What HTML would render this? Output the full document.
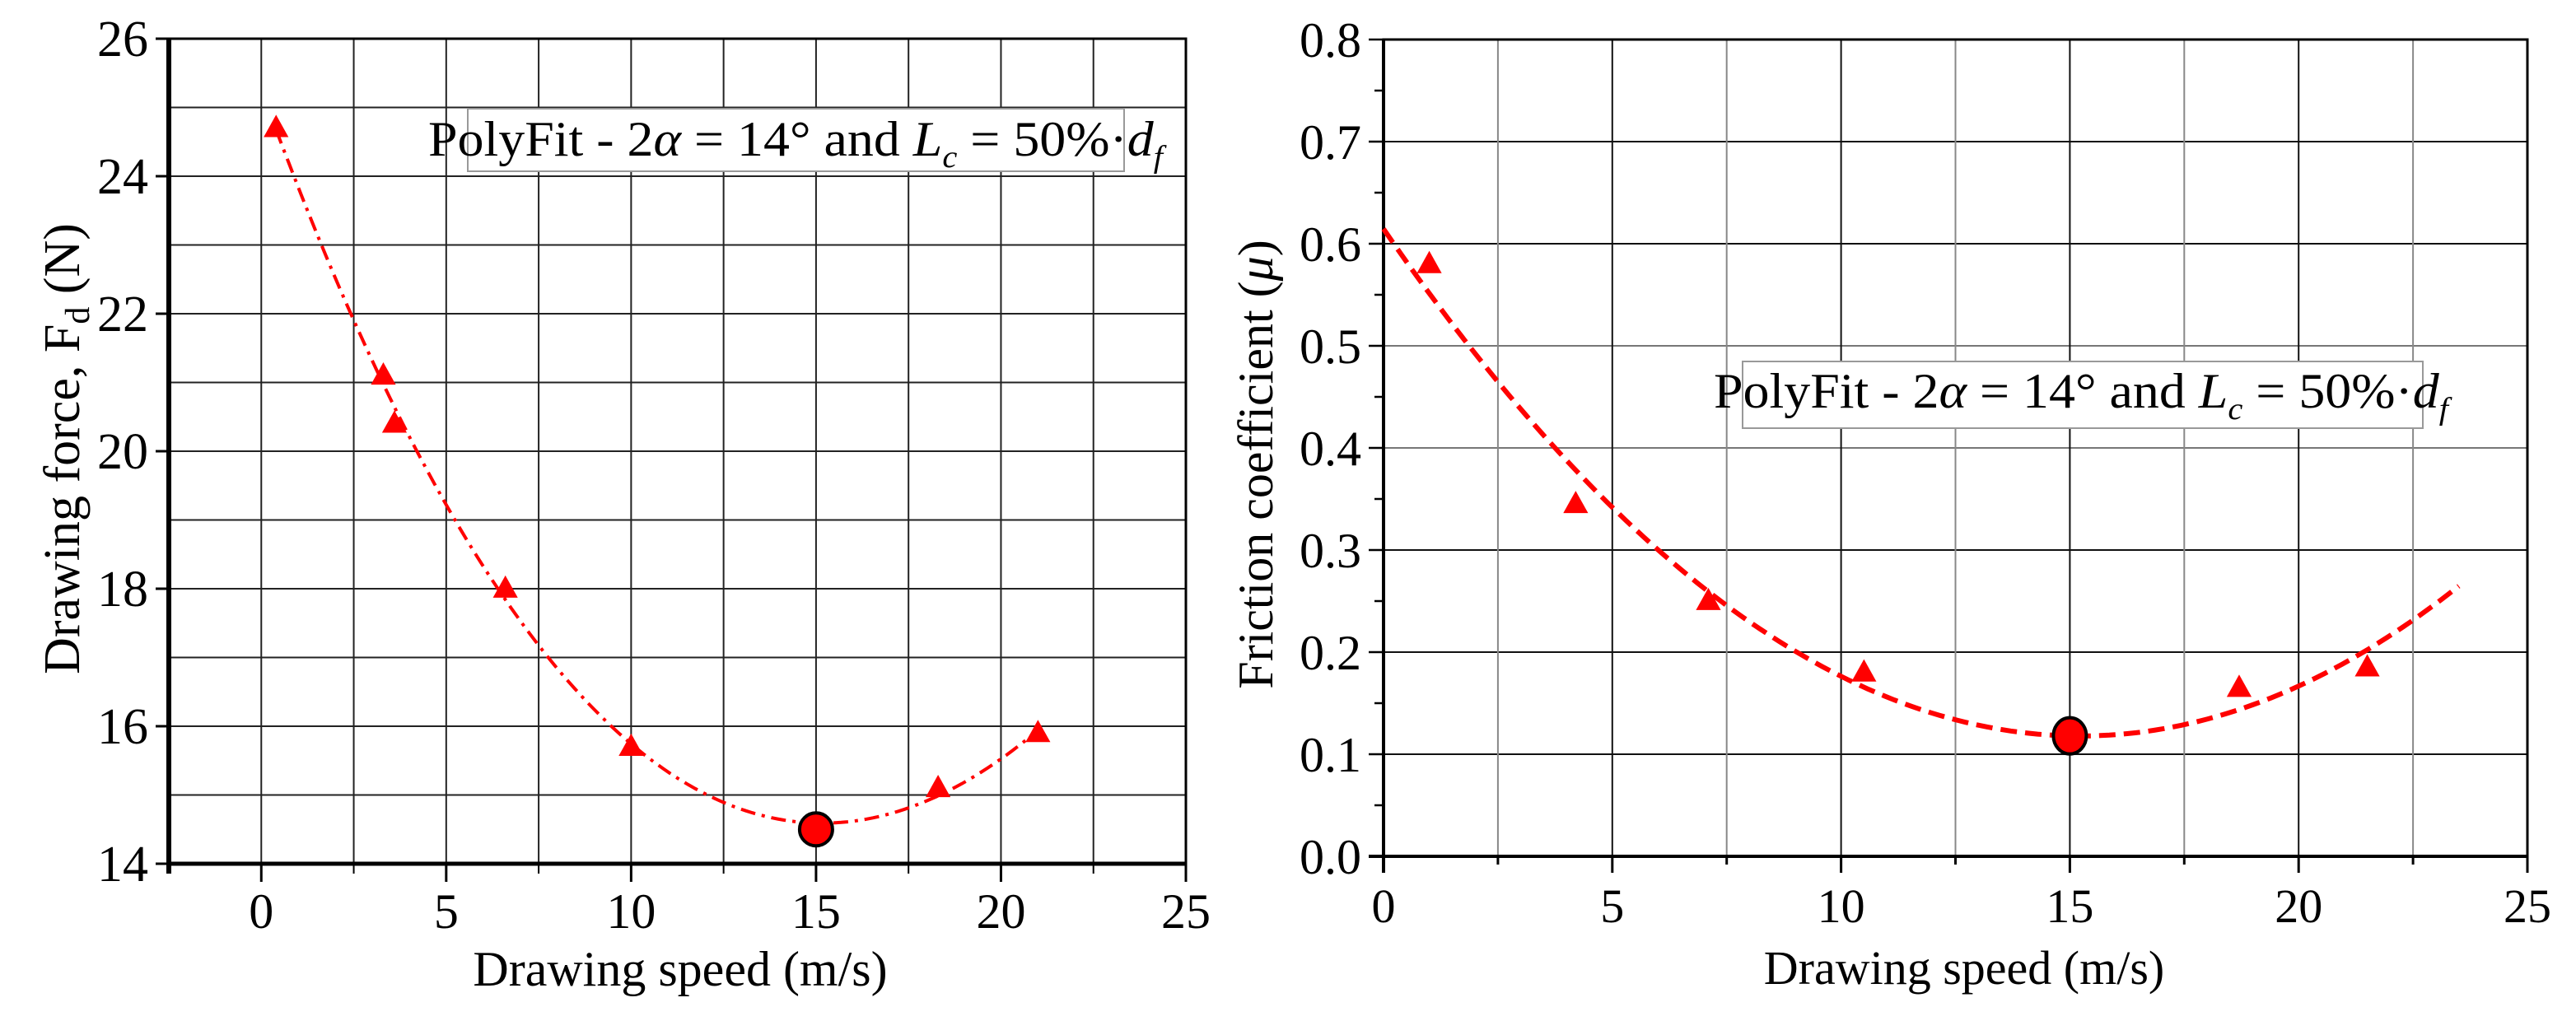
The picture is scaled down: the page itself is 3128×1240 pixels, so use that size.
<!DOCTYPE html>
<html><head><meta charset="utf-8"><style>
html,body{margin:0;padding:0;background:#fff;}
svg{display:block;font-family:"Liberation Serif",serif;}
</style></head><body>
<svg id="fig" width="3128" height="1240" viewBox="0 0 3128 1240" xmlns="http://www.w3.org/2000/svg">
<rect x="0" y="0" width="3128" height="1240" fill="#fff"/>
<g id="left"></g>
<g id="right"></g>
</svg>
<script>
// ---- Left chart data ----
const leftSpeed = [0.4, 3.3, 3.6, 6.6, 10.0, 18.3, 21.0];
const leftForce = [24.7, 21.1, 20.4, 18.0, 15.7, 15.1, 15.9];
const leftOptSpeed = [15];
const leftOptForce = [14.5];
const leftYTicks = [14, 16, 18, 20, 22, 24, 26];
const leftXTicks = [0, 5, 10, 15, 20, 25];
// ---- Right chart data ----
const rightSpeed = [1.0, 4.2, 7.1, 10.5, 18.7, 21.5];
const rightMu = [0.58, 0.345, 0.25, 0.18, 0.165, 0.185];
const rightOptSpeed = [15];
const rightOptMu = [0.118];
const rightYTicks = ["0.0","0.1","0.2","0.3","0.4","0.5","0.6","0.7","0.8"];
const rightXTicks = [0, 5, 10, 15, 20, 25];
const rightFitStart = [0.61];

const NS = "http://www.w3.org/2000/svg";
function mk(parent, tag, attrs, text) {
  const e = document.createElementNS(NS, tag);
  for (const k in attrs) e.setAttribute(k, attrs[k]);
  if (text !== undefined) e.textContent = text;
  parent.appendChild(e);
  return e;
}
function polyfit(xs, ys, deg) {
  const n = deg + 1;
  const A = [], b = [];
  for (let i = 0; i < n; i++) { A.push(new Array(n).fill(0)); b.push(0); }
  for (let k = 0; k < xs.length; k++) {
    for (let i = 0; i < n; i++) {
      b[i] += ys[k] * Math.pow(xs[k], i);
      for (let j = 0; j < n; j++) A[i][j] += Math.pow(xs[k], i + j);
    }
  }
  for (let i = 0; i < n; i++) {
    let p = i;
    for (let r = i + 1; r < n; r++) if (Math.abs(A[r][i]) > Math.abs(A[p][i])) p = r;
    [A[i], A[p]] = [A[p], A[i]]; [b[i], b[p]] = [b[p], b[i]];
    for (let r = i + 1; r < n; r++) {
      const f = A[r][i] / A[i][i];
      for (let c = i; c < n; c++) A[r][c] -= f * A[i][c];
      b[r] -= f * b[i];
    }
  }
  const x = new Array(n).fill(0);
  for (let i = n - 1; i >= 0; i--) {
    let s = b[i];
    for (let c = i + 1; c < n; c++) s -= A[i][c] * x[c];
    x[i] = s / A[i][i];
  }
  return t => x.reduce((acc, c, i) => acc + c * Math.pow(t, i), 0);
}
function tri(g, cx, cy, s, name) {
  const p = mk(g, "polygon", {points: `${cx},${cy - s * 0.62} ${cx - s * 0.58},${cy + s * 0.42} ${cx + s * 0.58},${cy + s * 0.42}`, fill: "#ff0000"});
  
  
}
function legend(g, x, y, bx, by, bw, bh, name) {
  const r = mk(g, "rect", {x: bx, y: by, width: bw, height: bh, fill: "#fff", stroke: "#999", "stroke-width": 2});
  
  
  const t = mk(g, "text", {x: x, y: y, "font-size": 60, fill: "#000", textLength: 892, lengthAdjust: "spacingAndGlyphs"});
  
  
  t.innerHTML = 'PolyFit - 2<tspan font-style="italic">α</tspan> = 14° and <tspan font-style="italic">L</tspan><tspan font-style="italic" font-size="38" dy="14">c</tspan><tspan dy="-14"> = 50%·</tspan><tspan font-style="italic">d</tspan><tspan font-style="italic" font-size="38" dy="14">f</tspan>';
}

// ================= LEFT =================
(function () {
  const g = document.getElementById("left");
  const X0 = 205, X1 = 1440, Y0 = 1049, Y1 = 47;
  const xmin = -2.5, xmax = 25, ymin = 14, ymax = 26;
  const sx = v => X0 + (v - xmin) / (xmax - xmin) * (X1 - X0);
  const sy = v => Y0 - (v - ymin) / (ymax - ymin) * (Y0 - Y1);
  // horizontal grid
  for (let v = ymin + 1; v < ymax; v++) {
    const l = mk(g, "line", {x1: X0, x2: X1, y1: sy(v), y2: sy(v), stroke: "#222", "stroke-width": 2});
    
    
  }
  for (let v = 0; v < xmax; v += 2.5) {
    const l = mk(g, "line", {x1: sx(v), x2: sx(v), y1: Y1, y2: Y0, stroke: "#222", "stroke-width": 2});
    
    
  }
  // frame
  const fr = mk(g, "rect", {x: X0, y: Y1, width: X1 - X0, height: Y0 - Y1, fill: "none", stroke: "#000", "stroke-width": 3});
  
  
  mk(g, "line", {x1: X0, x2: X0, y1: Y1, y2: Y0 + 12, stroke: "#000", "stroke-width": 6});
  mk(g, "line", {x1: X0, x2: X1, y1: Y0, y2: Y0, stroke: "#000", "stroke-width": 5});
  // x ticks
  for (let v = xmin; v <= xmax + 0.01; v += 2.5) {
    const major = Math.abs(v % 5) < 0.01;
    mk(g, "line", {x1: sx(v), x2: sx(v), y1: Y0, y2: Y0 + (major ? 22 : 12), stroke: "#000", "stroke-width": major ? 3 : 2});
  }
  leftXTicks.forEach(v => {
    const t = mk(g, "text", {x: sx(v), y: 1127, "font-size": 60, "text-anchor": "middle"}, String(v));
    
    
  });
  leftYTicks.forEach(v => {
    mk(g, "line", {x1: X0 - 16, x2: X0, y1: sy(v), y2: sy(v), stroke: "#000", "stroke-width": 3});
    const t = mk(g, "text", {x: 180, y: sy(v) + 21, "font-size": 62, "text-anchor": "end"}, String(v));
    
    
  });
  const xt = mk(g, "text", {x: 826, y: 1197, "font-size": 60, "text-anchor": "middle"}, "Drawing speed (m/s)");
  
  
  const yt = mk(g, "text", {x: 0, y: 0, "font-size": 62, "text-anchor": "middle", transform: "translate(96,545) rotate(-90)"});
  
  
  yt.innerHTML = 'Drawing force, F<tspan font-size="42" dy="12">d</tspan><tspan dy="-12"> (N)</tspan>';
  // fit curve
  const allX = leftSpeed.concat(leftOptSpeed), allY = leftForce.concat(leftOptForce);
  const f = polyfit(allX, allY, 3);
  const a = Math.min(...allX), b = Math.max(...allX);
  let d = "";
  for (let i = 0; i <= 120; i++) { const t = a + (b - a) * i / 120; d += (i ? "L" : "M") + sx(t).toFixed(1) + "," + sy(f(t)).toFixed(1); }
  const fit = mk(g, "path", {d: d, fill: "none", stroke: "#ff0000", "stroke-width": 4, "stroke-dasharray": "18 8 4 8"});
  
  
  leftSpeed.forEach((v, i) => tri(g, sx(v), sy(leftForce[i]), 26, 'data-point'));
  leftOptSpeed.forEach((v, i) => {
    const c = mk(g, "ellipse", {cx: sx(v), cy: sy(leftOptForce[i]), rx: 20, ry: 20, fill: "#ff0000", stroke: "#000", "stroke-width": 4});
    
    
  });
  legend(g, 520, 189, 568, 132, 797, 76, 'legend-text');
})();

// ================= RIGHT =================
(function () {
  const g = document.getElementById("right");
  const X0 = 1680, X1 = 3069, Y0 = 1040, Y1 = 48;
  const xmin = 0, xmax = 25, ymin = 0, ymax = 0.8;
  const sx = v => X0 + (v - xmin) / (xmax - xmin) * (X1 - X0);
  const sy = v => Y0 - (v - ymin) / (ymax - ymin) * (Y0 - Y1);
  for (let k = 1; k < 8; k++) {
    const v = k / 10;
    const l = mk(g, "line", {x1: X0, x2: X1, y1: sy(v), y2: sy(v), stroke: (k === 4 || k === 5) ? "#777" : "#111", "stroke-width": 2});
    
    
  }
  for (let v = 2.5; v < xmax; v += 2.5) {
    const major = Math.abs(v % 5) < 0.01;
    const l = mk(g, "line", {x1: sx(v), x2: sx(v), y1: Y1, y2: Y0, stroke: major ? "#111" : "#888", "stroke-width": 2});
    
    
  }
  const fr = mk(g, "rect", {x: X0, y: Y1, width: X1 - X0, height: Y0 - Y1, fill: "none", stroke: "#000", "stroke-width": 3});
  
  
  mk(g, "line", {x1: X0, x2: X0, y1: Y1, y2: Y0 + 20, stroke: "#000", "stroke-width": 4});
  mk(g, "line", {x1: X0 - 18, x2: X1, y1: Y0, y2: Y0, stroke: "#000", "stroke-width": 4});
  for (let k = 0; k <= 16; k++) {
    const v = k * 0.05;
    mk(g, "line", {x1: X0 - (k % 2 ? 11 : 18), x2: X0, y1: sy(v), y2: sy(v), stroke: "#000", "stroke-width": 2.5});
  }
  for (let v = 0; v <= xmax + 0.01; v += 2.5) {
    const major = Math.abs(v % 5) < 0.01;
    mk(g, "line", {x1: sx(v), x2: sx(v), y1: Y0, y2: Y0 + (major ? 20 : 10), stroke: "#000", "stroke-width": 3});
  }
  rightXTicks.forEach(v => {
    const t = mk(g, "text", {x: sx(v), y: 1120, "font-size": 58, "text-anchor": "middle"}, String(v));
    
    
  });
  rightYTicks.forEach(s => {
    const t = mk(g, "text", {x: 1653, y: sy(parseFloat(s)) + 21, "font-size": 60, "text-anchor": "end"}, s);
    
    
  });
  const xt = mk(g, "text", {x: 2385, y: 1195, "font-size": 58, "text-anchor": "middle"}, "Drawing speed (m/s)");
  
  
  const yt = mk(g, "text", {x: 0, y: 0, "font-size": 60, "text-anchor": "middle", transform: "translate(1545,564) rotate(-90)"});
  
  
  yt.innerHTML = 'Friction coefficient (<tspan font-style="italic">μ</tspan>)';
  const allX = [0].concat(rightSpeed, rightOptSpeed), allY = rightFitStart.concat(rightMu, rightOptMu);
  const f = polyfit(allX, allY, 2);
  const a = 0, b = 23.5;
  let d = "";
  for (let i = 0; i <= 120; i++) { const t = a + (b - a) * i / 120; d += (i ? "L" : "M") + sx(t).toFixed(1) + "," + sy(f(t)).toFixed(1); }
  const fit = mk(g, "path", {d: d, fill: "none", stroke: "#ff0000", "stroke-width": 6, "stroke-dasharray": "20 10"});
  
  
  rightSpeed.forEach((v, i) => tri(g, sx(v), sy(rightMu[i]), 26, 'data-point'));
  rightOptSpeed.forEach((v, i) => {
    const c = mk(g, "ellipse", {cx: sx(v), cy: sy(rightOptMu[i]), rx: 20, ry: 22, fill: "#ff0000", stroke: "#000", "stroke-width": 4});
    
    
  });
  legend(g, 2081, 495, 2116, 439, 826, 81, 'legend-text');
})();
</script>
</body></html>
